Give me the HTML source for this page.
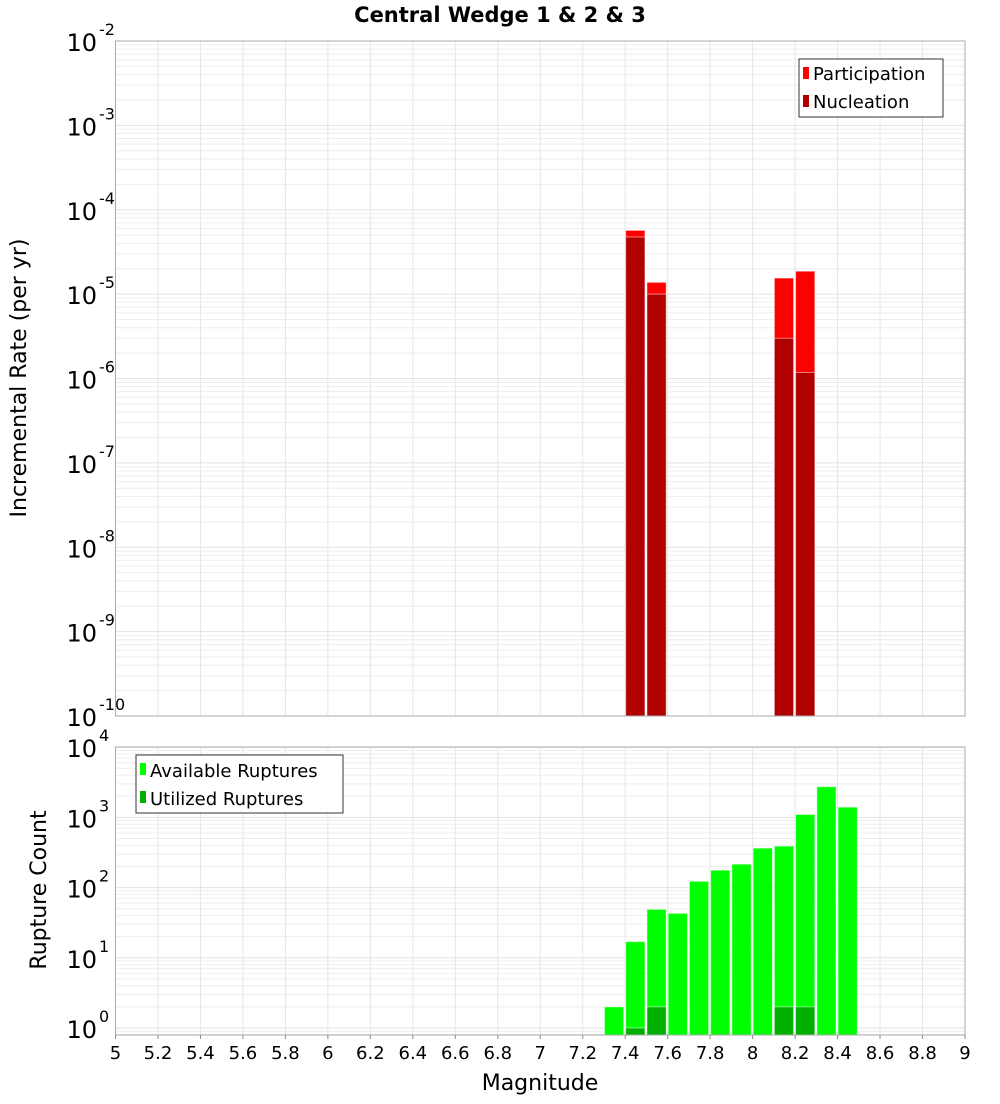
<!DOCTYPE html>
<html><head><meta charset="utf-8"><style>
body{margin:0;background:#fff;font-family:"DejaVu Sans","Liberation Sans",sans-serif}
svg text{font-family:"DejaVu Sans","Liberation Sans",sans-serif}
</style></head><body>
<svg id="chart" width="1000" height="1100" xmlns="http://www.w3.org/2000/svg">
<text x="500" y="22" text-anchor="middle" font-size="21" font-weight="bold">Central Wedge 1 &amp; 2 &amp; 3</text>
<g id="top"></g>
<g id="bot"></g>
<text transform="translate(26,378) rotate(-90)" text-anchor="middle" font-size="22">Incremental Rate (per yr)</text>
<text transform="translate(46,890) rotate(-90)" text-anchor="middle" font-size="22">Rupture Count</text>
<text x="540" y="1090" text-anchor="middle" font-size="22">Magnitude</text>
<g>
<rect x="799" y="59" width="144" height="58" fill="#fff" stroke="#333"/>
<rect x="803" y="67" width="6" height="12" fill="#ff0000"/>
<text x="813" y="80" font-size="18">Participation</text>
<rect x="803" y="95" width="6" height="12" fill="#b00000"/>
<text x="813" y="108" font-size="18">Nucleation</text>
</g>
<g>
<rect x="136" y="755" width="207" height="58" fill="#fff" stroke="#333"/>
<rect x="140" y="763" width="6" height="12" fill="#00ff00"/>
<text x="150" y="777" font-size="18">Available Ruptures</text>
<rect x="140" y="791" width="6" height="12" fill="#00b000"/>
<text x="150" y="805" font-size="18">Utilized Ruptures</text>
</g>
</svg>
<script>
const xTicks=[5,5.2,5.4,5.6,5.8,6,6.2,6.4,6.6,6.8,7,7.2,7.4,7.6,7.8,8,8.2,8.4,8.6,8.8,9];
const rateMags=[7.45,7.55,8.15,8.25];
const participation=[5.7e-5,1.38e-5,1.55e-5,1.87e-5];
const nucleation=[4.75e-5,1.0e-5,3.0e-6,1.18e-6];
const countMags=[7.35,7.45,7.55,7.65,7.75,7.85,7.95,8.05,8.15,8.25,8.35,8.45];
const available=[2,17,49,43,123,177,216,365,390,1100,2740,1400];
const utilMags=[7.45,7.55,8.15,8.25];
const utilized=[1,2,2,2];
const rateExps=[-10,-9,-8,-7,-6,-5,-4,-3,-2];
const countExps=[0,1,2,3,4];

const NS='http://www.w3.org/2000/svg';
const svg=document.getElementById('chart');
const L=115.5,R=965;
const xs=m=>L+(m-5)/4*(R-L);
function el(parent,tag,attrs){const e=document.createElementNS(NS,tag);for(const k in attrs)e.setAttribute(k,attrs[k]);parent.appendChild(e);return e;}
// top axis
const tT=41,tB=716;
const yTop=v=>tB-(Math.log10(v)+10)/8*(tB-tT);
// bottom axis
const bT=747,bB=1035,bDec=70.2,b0=1028;
const yBot=v=>b0-Math.log10(v)*bDec;

function panel(g,top,bot,yf,expMin,expMax){
  for(let e=expMin-1;e<=expMax;e++){for(let k=1;k<10;k++){const v=k*Math.pow(10,e);const y=yf(v);if(y<top-0.5||y>bot+0.5)continue;
    const ln=el(g,'line',{x1:L,x2:R,y1:y,y2:y,stroke:k==1?'#e2e2e2':'#eeeeee','stroke-width':1});
    }}
  xTicks.forEach(t=>{const x=xs(t);const ln=el(g,'line',{x1:x,x2:x,y1:top,y2:bot,stroke:'#e6e6e6'});
    });
}
function ylabels(g,exps,yf,base){
  exps.forEach(e=>{const y=yf(Math.pow(10,e));
    const t=el(g,'text',{x:97,y:y+10,'text-anchor':'end','font-size':24});
    
    t.textContent='10';
    const s=el(g,'text',{x:99,y:y-6,'font-size':16});
    
    s.textContent=String(e);});
}
function bar(g,m,v,yf,bot,fill,name){
  const x0=xs(m-0.05),x1=xs(m+0.05);const y=yf(v);
  const r=el(g,'rect',{x:x0+0.5,y:y,width:x1-x0-2,height:bot-y,fill:fill,stroke:'rgba(255,255,255,0.5)','stroke-width':1});
  
}
const gt=document.getElementById('top'),gb=document.getElementById('bot');
panel(gt,tT,tB,yTop,-10,-2);
panel(gb,bT,bB,yBot,0,4);
rateMags.forEach((m,i)=>bar(gt,m,participation[i],yTop,tB,'#ff0000','participation-bar'));
rateMags.forEach((m,i)=>bar(gt,m,nucleation[i],yTop,tB,'#b00000','nucleation-bar'));
countMags.forEach((m,i)=>bar(gb,m,available[i],yBot,bB,'#00ff00','available-bar'));
utilMags.forEach((m,i)=>bar(gb,m,utilized[i],yBot,bB,'#00b000','utilized-bar'));
const f1=el(gt,'rect',{x:L,y:tT,width:R-L,height:tB-tT,fill:'none',stroke:'#aaa'});

const f2=el(gb,'rect',{x:L,y:bT,width:R-L,height:bB-bT,fill:'none',stroke:'#aaa'});

ylabels(gt,rateExps,yTop);
ylabels(gb,countExps,yBot);
xTicks.forEach(t=>{const x=xs(t);
  const tk=el(gb,'line',{x1:x,x2:x,y1:bB,y2:bB+4,stroke:'#888'});
  
  const tx=el(gb,'text',{x:x,y:1059,'text-anchor':'middle','font-size':18});
  
  tx.textContent=String(t);});
</script>
</body></html>
